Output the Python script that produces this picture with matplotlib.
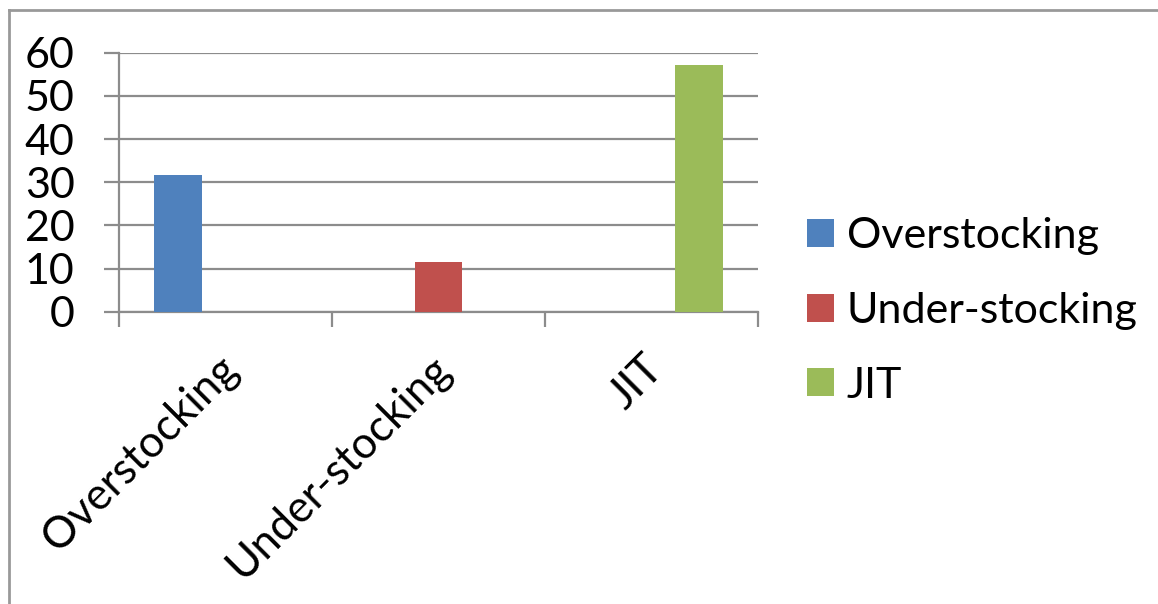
import matplotlib
matplotlib.use("Agg")
import matplotlib.pyplot as plt
from matplotlib.lines import Line2D
from matplotlib.patches import Patch
import matplotlib.transforms as mtrans
import numpy as np

categories = ["Overstocking", "Under-stocking", "JIT"]
series_names = ["Overstocking", "Under-stocking", "JIT"]
series_values = [
    [31.6, 0, 0],
    [0, 11.5, 0],
    [0, 0, 57.1],
]
colors = ["#4F81BD", "#C0504D", "#9BBB59"]
yticks = [0, 10, 20, 30, 40, 50, 60]

plt.rcParams['font.family'] = ['Lato', 'DejaVu Sans']
FS = 31

W, H = 1158, 604
fig = plt.figure(figsize=(W / 100, H / 100), dpi=100)
ax = fig.add_axes([119 / W, 1 - 311.7 / H, (758 - 119) / W, (311.7 - 52.7) / H])

x = np.arange(len(categories))
bw = 0.224
for i, (name, vals) in enumerate(zip(series_names, series_values)):
    ax.bar(x + (i - 1) * bw, vals, width=bw, color=colors[i], label=name, zorder=3)

grid_c = "#8c8c8c"
ax.set_xlim(-0.5, len(categories) - 0.5)
ax.set_ylim(0, 60)
ax.set_yticks(yticks)
ax.set_yticklabels([str(v) for v in yticks], fontsize=FS)
ax.yaxis.grid(True, color=grid_c, linewidth=1.6, zorder=0)
ax.set_axisbelow(True)
for s in ["top", "right"]:
    ax.spines[s].set_visible(False)
ax.spines["left"].set_color(grid_c)
ax.spines["bottom"].set_color(grid_c)
ax.spines["left"].set_linewidth(1.6)
ax.spines["bottom"].set_linewidth(1.6)
ax.tick_params(axis="y", length=11, width=1.6, color=grid_c, pad=21, direction="out")
ax.tick_params(axis="x", length=11, width=1.6, color=grid_c, direction="out")

# category boundary ticks
ax.set_xticks(np.arange(len(categories) + 1) - 0.5)
ax.set_xticklabels([])
ax.set_xticks(x, minor=True)
ax.set_xticklabels(categories, minor=True, rotation=45, ha="right", va="top",
                   rotation_mode="anchor", fontsize=31.5)
ax.tick_params(axis="x", which="minor", length=0, pad=26)
for lbl in ax.get_xticklabels(minor=True):
    lbl.set_transform(lbl.get_transform() + mtrans.ScaledTranslation(-0.09, 0, fig.dpi_scale_trans))

handles = [Patch(facecolor=c, edgecolor="none") for c in colors]
fig.legend(handles, series_names, loc="center left",
           bbox_to_anchor=(807 / W, 1 - 311 / H), frameon=False, fontsize=FS,
           borderpad=0, borderaxespad=0,
           handlelength=0.62, handleheight=0.62, handletextpad=0.3, labelspacing=0.85)

# outer frame
fig.add_artist(Line2D([9 / W, 9 / W], [0, 1 - 10 / H], color="#999999", linewidth=2, transform=fig.transFigure))
fig.add_artist(Line2D([9 / W, 1], [1 - 10 / H, 1 - 10 / H], color="#999999", linewidth=2, transform=fig.transFigure))

fig.savefig("out.png", dpi=100)
